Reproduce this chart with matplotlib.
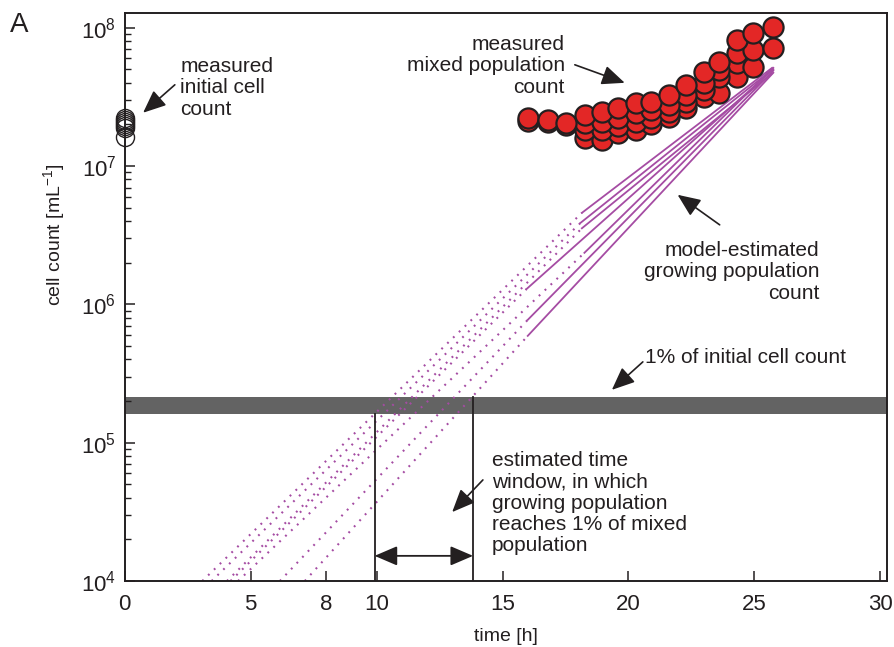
import matplotlib
matplotlib.use("Agg")
import matplotlib.pyplot as plt
import numpy as np
from matplotlib.ticker import FixedLocator, NullFormatter

plt.rcParams["font.family"] = ["Liberation Sans", "DejaVu Sans"]
plt.rcParams["mathtext.fontset"] = "custom"
plt.rcParams["mathtext.rm"] = "Liberation Sans"
plt.rcParams["mathtext.it"] = "Liberation Sans:italic"

INK = "#231f20"
PURPLE = "#a54ca3"
RED = "#e32726"
BAND = "#636363"

# measured initial cell counts (t = 0 h), cells/mL
initial_counts = [2.23e7, 2.16e7, 2.09e7, 2.02e7, 1.96e7, 1.89e7, 1.63e7]

# measured mixed population counts
mix_time = [16.0, 16.8, 17.5, 18.27, 18.94, 19.6, 20.3, 20.9, 21.6, 22.3,
            23.0, 23.6, 24.3, 24.95, 25.73]
mix_s1 = [2.23e7, 2.16e7, 2.06e7, 2.35e7, 2.47e7, 2.64e7, 2.87e7, 2.92e7,
          3.27e7, 3.87e7, 4.81e7, 5.68e7, 8.19e7, 9.20e7, 1.02e8]
mix_s2 = [2.12e7, 2.09e7, 1.99e7, 2.06e7, 2.09e7, 2.23e7, 2.43e7, 2.55e7,
          2.77e7, 3.27e7, 4.00e7, 4.97e7, 6.60e7, 6.93e7, 7.17e7]
mix_s3 = [1.83e7, 1.83e7, 1.96e7, 2.09e7, 2.23e7, 2.47e7, 2.92e7, 3.56e7,
          4.42e7, 5.58e7, 5.22e7]
mix_s4 = [1.60e7, 1.55e7, 1.74e7, 1.83e7, 2.02e7, 2.27e7, 2.64e7, 3.17e7,
          3.39e7, 4.42e7]

# model-estimated growing population: time where the model crosses 1e4
model_t0 = [3.08, 3.45, 4.06, 4.5, 4.2, 6.16, 7.15]
# solid part (fit range): start / end time and value
model_t_start = [18.15, 18.1, 18.15, 18.25, 15.95, 16.0, 16.0]
model_v_start = [4.59e6, 3.89e6, 3.55e6, 2.36e6, 1.29e6, 7.73e5, 5.92e5]
model_t_end = [25.7, 25.65, 25.7, 25.75, 25.75, 25.75, 25.75]
model_v_end = [5.13e7, 4.90e7, 4.68e7, 5.13e7, 5.01e7, 4.90e7, 4.73e7]

# 1% of initial cell count
band_low, band_high = 1.6e5, 2.15e5
# estimated time window
window = [9.92, 13.83]

x_ticks = [0, 5, 8, 10, 15, 20, 25, 30]
y_ticks = [1e4, 1e5, 1e6, 1e7, 1e8]
y_ticklabels = ["$10^{4}$", "$10^{5}$", "$10^{6}$", "$10^{7}$", "$10^{8}$"]

fig = plt.figure(figsize=(8.94, 6.47), dpi=100)
ax = fig.add_axes([0.1395, 0.102, 0.8523, 0.878])
ax.set_yscale("log")
ax.set_xlim(0, 30.25)
ax.set_ylim(1e4, 1.28e8)

# gray band
ax.axhspan(band_low, band_high, color=BAND, lw=0, zorder=1)

# model lines
for t0, ts, vs, te, ve in zip(model_t0, model_t_start, model_v_start,
                              model_t_end, model_v_end):
    ax.plot([t0, ts], [1e4, vs], color=PURPLE, lw=1.5,
            linestyle=(0, (0.9, 3.0)), zorder=2)
    ax.plot([ts, te], [vs, ve], color=PURPLE, lw=1.3, zorder=2)

# time-window markers
ax.plot([window[0], window[0]], [1e4, band_low], color=INK, lw=1.3, zorder=3)
ax.plot([window[1], window[1]], [1e4, band_high], color=INK, lw=1.3, zorder=3)
ax.annotate("", xy=(window[0], 1.52e4), xytext=(window[1], 1.52e4),
            arrowprops=dict(arrowstyle="<|-|>,head_length=0.7,head_width=0.3",
                            mutation_scale=20, color=INK, lw=1.3,
                            shrinkA=0, shrinkB=0), zorder=3)

# initial counts
ax.plot([0] * len(initial_counts), initial_counts, "o", ms=13, mfc="none",
        mec=INK, mew=1.0, clip_on=False, zorder=5)

# mixed population
series = [(mix_time, mix_s1), (mix_time, mix_s2),
          (mix_time[3:14], mix_s3), (mix_time[3:13], mix_s4)]
for tt, vv in series[::-1]:
    ax.plot(tt, vv, "o", ms=14.5, mfc=RED, mec=INK, mew=1.6, zorder=4)

# ticks and frame
ax.xaxis.set_major_locator(FixedLocator(x_ticks))
ax.set_xticklabels([str(v) for v in x_ticks])
ax.yaxis.set_major_locator(FixedLocator(y_ticks))
ax.set_yticklabels(y_ticklabels)
minor = [m * 10 ** e for e in range(4, 8) for m in range(2, 10)]
ax.yaxis.set_minor_locator(FixedLocator(minor))
ax.yaxis.set_minor_formatter(NullFormatter())
ax.xaxis.set_minor_locator(FixedLocator([]))
ax.tick_params(axis="both", which="major", direction="in", length=7,
               width=1.1, color=INK, labelcolor=INK, labelsize=16, pad=6)
ax.tick_params(axis="y", which="minor", direction="in", length=4,
               width=1.0, color=INK)
ax.tick_params(axis="x", pad=9)
for sp in ax.spines.values():
    sp.set_linewidth(1.4)
    sp.set_color(INK)

ax.set_xlabel("time [h]", fontsize=14, color=INK, labelpad=10)
ax.set_ylabel("cell count [mL$^{-1}$]", fontsize=14, color=INK)
ax.yaxis.set_label_coords(-0.076, 0.61)

# annotations
arrow = dict(arrowstyle="-|>,head_length=0.7,head_width=0.3",
             mutation_scale=20, color=INK, lw=1.2, shrinkA=0, shrinkB=0)
txt = dict(fontsize=15, color=INK, va="center", linespacing=1.15)

ax.text(2.2, 3.68e7, "measured\ninitial cell\ncount", ha="left", **txt)
ax.annotate("", xy=(0.73, 2.43e7), xytext=(1.99, 3.87e7), arrowprops=arrow)

ax.text(17.47, 5.31e7, "measured\nmixed population\ncount", ha="right",
        multialignment="right", **txt)
ax.annotate("", xy=(19.85, 4.0e7), xytext=(17.87, 5.4e7), arrowprops=arrow)

ax.text(27.59, 1.72e6, "model-estimated\ngrowing population\ncount",
        ha="right", multialignment="right", **txt)
ax.annotate("", xy=(21.95, 6.2e6), xytext=(23.62, 3.76e6), arrowprops=arrow)

ax.text(20.65, 4.1e5, "1% of initial cell count", ha="left", **txt)
ax.annotate("", xy=(19.34, 2.41e5), xytext=(20.57, 3.84e5), arrowprops=arrow)

ax.text(14.58, 3.66e4, "estimated time\nwindow, in which\ngrowing population\n"
        "reaches 1% of mixed\npopulation", ha="left", **txt)
ax.annotate("", xy=(13.0, 3.15e4), xytext=(14.22, 5.38e4), arrowprops=arrow)

fig.text(0.011, 0.962, "A", fontsize=20, color=INK, ha="left", va="center")

fig.savefig("out.png", dpi=100)
